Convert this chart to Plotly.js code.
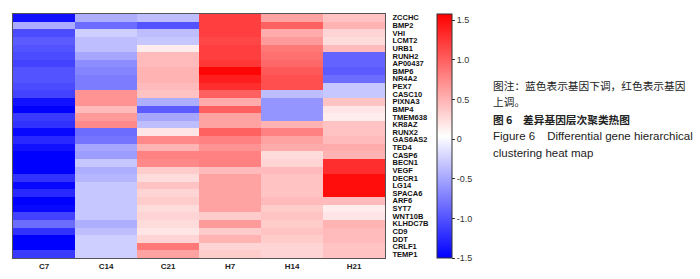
<!DOCTYPE html>
<html><head><meta charset="utf-8">
<script src="https://cdn.plot.ly/plotly-3.0.1.min.js"></script>
<style>html,body{margin:0;padding:0;background:#fff;}#chart{width:700px;height:279px;}</style>
</head><body><div id="chart"></div>
<script>
const genes = ["ZCCHC","BMP2","VHI","LCMT2","URB1","RUNH2","AP00437","BMP6","NR4A2","PEX7","CASC10","PIXNA3","BMP4","TMEM638","KR8AZ","RUNX2","GAS6AS2","TED4","CASP6","BECN1","VEGF","DECR1","LG14","SPACA6","ARF6","SYT7","WNT10B","KLHDC7B","CD9","DDT","CRLF1","TEMP1"];
const samples = ["C7","C14","C21","H7","H14","H21"];
const C7  = [-1.4,-0.47,-1.05,-0.95,-1.0,-1.05,-1.1,-1.0,-1.0,-1.05,-1.1,-1.4,-1.5,-1.15,-1.2,-1.45,-1.25,-1.4,-1.5,-1.5,-1.5,-1.2,-1.45,-1.25,-1.5,-1.45,-1.1,-0.85,-1.2,-1.5,-1.5,-1.15];
const C14 = [-0.45,-0.85,-0.25,-0.35,-0.35,-0.5,-0.65,-0.7,-0.75,-0.75,0.7,0.7,0.45,0.65,0.75,-0.85,-0.8,-0.5,-0.55,-0.3,-0.45,-0.4,-0.3,-0.3,-0.3,-0.3,-0.3,-0.45,-0.35,-0.25,-0.25,-0.25];
const C21 = [-0.35,-1.0,-0.35,-0.3,0.15,0.45,0.45,0.5,0.5,0.45,0.4,-0.45,-0.95,-0.5,-0.35,0.2,0.75,0.5,0.8,0.75,0.35,0.25,0.4,0.3,0.35,0.25,0.3,0.25,0.2,0.3,0.85,0.6];
const H7  = [1.2,1.2,1.2,1.15,1.2,1.2,1.25,1.55,1.4,1.3,1.0,0.55,1.0,0.6,0.6,1.0,0.8,0.7,0.8,0.8,0.45,0.6,0.6,0.6,0.6,0.6,0.35,0.65,0.35,0.5,0.3,0.35];
const H14 = [0.6,1.0,0.55,0.65,0.85,0.9,0.95,1.05,1.1,1.1,-0.35,-0.6,-0.6,-0.6,0.5,0.8,0.6,0.55,0.25,0.3,0.45,0.4,0.4,0.4,0.45,0.35,0.4,0.35,0.4,0.35,0.3,0.3];
const H21 = [0.4,0.5,0.3,0.25,0.45,-0.9,-0.9,-0.95,-0.85,-0.3,-0.3,0.4,0.2,0.15,0.4,0.4,0.45,0.55,0.5,1.3,1.3,1.5,1.5,1.5,0.45,0.15,0.2,0.5,0.45,0.45,0.4,0.4];
const cbTicks = [-1.5,-1.0,-0.5,0,0.5,1.0,1.5];
const cbTickText = ["-1.5","-1.0","-0.5","0","0.5","1.0","1.5"];
const noteLines = ["图注：蓝色表示基因下调，红色表示基因","上调。","<b>图 6　差异基因层次聚类热图</b>","Figure 6　Differential gene hierarchical","clustering heat map"];

const cols = [C7,C14,C21,H7,H14,H21];
const z = genes.map((g,i)=>cols.map(c=>c[i]));

const W=700,H=279,L=13,R=315,T=14,B=21;
const pw=W-L-R, ph=H-T-B;
const px2x = p => (p-L)/pw;
const py2y = p => (H-B-p)/ph;

const noteY = [85,102,119,136,153];
const annotations = noteLines.map((t,i)=>({
  text:t, xref:'paper', yref:'paper', x:px2x(491), y:py2y(noteY[i]),
  xanchor:'left', yanchor:'middle', showarrow:false, align:'left',
  font:{family: i<3 ? '"Noto Sans CJK SC", sans-serif' : 'Arial, "Liberation Sans", sans-serif', size: i<3?10.7:11.5, color:'#222'}
}));

const trace = {
  type:'heatmap', z:z, x:samples, y:genes,
  zmin:-1.5, zmax:1.58,
  colorscale:[[0,'rgb(0,0,255)'],[0.5,'rgb(255,255,255)'],[1,'rgb(255,0,0)']],
  xgap:0, ygap:0,
  colorbar:{
    x:px2x(437), xanchor:'left', xref:'paper', thickness:15, thicknessmode:'pixels',
    len:1, lenmode:'fraction', y:0.5, yanchor:'middle',
    outlinewidth:1, outlinecolor:'#333',
    tickvals:cbTicks, ticktext:cbTickText, ticks:'outside', ticklen:3, tickcolor:'#333',
    tickfont:{family:'Arial, "Liberation Sans", sans-serif', size:9, color:'#333'},
    ypad:0, xpad:0
  }
};

const layout = {
  width:W, height:H,
  margin:{l:L, r:R, t:T, b:B, pad:0},
  paper_bgcolor:'#fff', plot_bgcolor:'#fff',
  xaxis:{type:'category', showline:true, mirror:true, linecolor:'#555', linewidth:1,
    ticks:'', showgrid:false, zeroline:false,
    tickfont:{family:'Arial, "Liberation Sans", sans-serif', size:8, color:'#222', weight:'bold'}},
  yaxis:{type:'category', autorange:'reversed', side:'right', showline:true, mirror:true, linecolor:'#555', linewidth:1,
    tickmode:'array', tickvals:genes, ticktext:genes,
    ticks:'', showgrid:false, zeroline:false, ticklabelstandoff:5,
    tickfont:{family:'Arial, "Liberation Sans", sans-serif', size:7.5, color:'#111', weight:'bold'}},
  annotations:annotations,
  showlegend:false
};

Plotly.newPlot('chart',[trace],layout,{displayModeBar:false,staticPlot:true});
</script>
</body></html>
